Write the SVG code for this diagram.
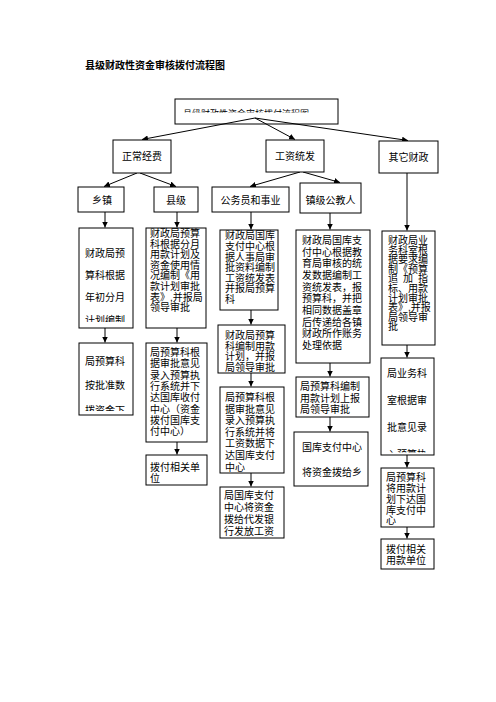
<svg xmlns="http://www.w3.org/2000/svg" width="496" height="702" viewBox="0 0 496 702">
<style>
text{font-family:"Liberation Sans","Noto Sans CJK SC",sans-serif;fill:#000;font-size:10px}
.b{fill:#fff;stroke:#000;stroke-width:1}
.c line{stroke:#000;stroke-width:1;marker-end:url(#ah)}
.t{font-weight:bold}
.f11{font-size:10.8px}
.m{text-anchor:middle}
</style>
<defs>
<marker id="ah" markerUnits="userSpaceOnUse" markerWidth="7" markerHeight="6" refX="6" refY="3" orient="auto"><path d="M0,0 L6,3 L0,6 z" fill="#000"/></marker>
<clipPath id="cTop"><rect x="175" y="99" width="163" height="13.5"/></clipPath>
<clipPath id="cX1"><rect x="79" y="228" width="54" height="94"/></clipPath>
<clipPath id="cX2"><rect x="79" y="343" width="54" height="68"/></clipPath>
<clipPath id="cQ2"><rect x="381" y="358" width="53" height="94.5"/></clipPath>
</defs>
<rect width="496" height="702" fill="#fff"/>
<text class="t" x="85" y="69">县级财政性资金审核拨付流程图</text>

<g id="connectors" class="c">
<line x1="255" y1="118" x2="142" y2="139.5"/>
<line x1="255" y1="118" x2="295" y2="139.5"/>
<line x1="255" y1="118" x2="408" y2="140.5"/>
<line x1="137" y1="173" x2="104" y2="186.5"/>
<line x1="140" y1="173" x2="176" y2="186.5"/>
<line x1="300" y1="172" x2="250" y2="186.5"/>
<line x1="303" y1="172" x2="340" y2="182.5"/>
<line x1="407" y1="173" x2="407" y2="230.5"/>
<line x1="105" y1="212" x2="105" y2="227.5"/>
<line x1="177" y1="212" x2="177" y2="227.5"/>
<line x1="251" y1="212" x2="251" y2="229.5"/>
<line x1="330" y1="213" x2="330" y2="229.5"/>
<line x1="105" y1="328" x2="105" y2="342.5"/>
<line x1="177" y1="328" x2="177" y2="342.5"/>
<line x1="177" y1="442" x2="177" y2="454.5"/>
<line x1="251" y1="310" x2="251" y2="324.5"/>
<line x1="251" y1="373" x2="251" y2="386.5"/>
<line x1="251" y1="473" x2="251" y2="486.5"/>
<line x1="330" y1="363" x2="330" y2="376.5"/>
<line x1="330" y1="417" x2="330" y2="431.5"/>
<line x1="407" y1="345" x2="407" y2="357.5"/>
<line x1="407" y1="455" x2="407" y2="467.5"/>
<line x1="407" y1="527" x2="407" y2="538.5"/>
</g>

<g id="top">
<rect class="b" x="175" y="99" width="163" height="25" fill="none" style="fill:none"/>
<text x="183" y="117" font-size="9" clip-path="url(#cTop)" style="font-size:9px">县级财政性资金审核拨付流程图</text>
</g>

<g id="n-zhengchang"><rect class="b" x="113" y="140" width="58" height="33"/><text class="m" x="142" y="160">正常经费</text></g>
<g id="n-gongzi"><rect class="b" x="266" y="140" width="58" height="32"/><text class="m" x="295" y="160">工资统发</text></g>
<g id="n-qita"><rect class="b" x="379" y="141" width="59" height="32"/><text class="m" x="408.5" y="161">其它财政</text></g>

<g id="n-xiangzhen"><rect class="b" x="78" y="187" width="46" height="25"/><text class="m" x="102" y="204">乡镇</text></g>
<g id="n-xianji"><rect class="b" x="154" y="187" width="44" height="25"/><text class="m" x="176" y="204">县级</text></g>
<g id="n-gwy"><rect class="b" x="212" y="187" width="77" height="25"/><text class="m" x="250.5" y="204">公务员和事业</text></g>
<g id="n-zhenjigj"><rect class="b" x="300" y="183" width="61" height="30"/><text class="m" x="330.5" y="204">镇级公教人</text></g>

<g id="x1"><rect class="b" x="79" y="228" width="54" height="100"/>
<g clip-path="url(#cX1)"><text x="85" y="257">财政局预</text><text x="85" y="279">算科根据</text><text x="85" y="301">年初分月</text><text x="85" y="324">计划编制</text></g></g>
<g id="x2"><rect class="b" x="79" y="343" width="54" height="72"/>
<g clip-path="url(#cX2)"><text x="85" y="365">局预算科</text><text x="85" y="389">按批准数</text><text x="85" y="414">拨资金下</text></g></g>

<g id="k1"><rect class="b" x="146" y="228" width="60" height="100"/>
<text x="150" y="237">财政局预算</text><text x="150" y="247.6">科根据分月</text><text x="150" y="258.2">用款计划及</text><text x="150" y="268.8">资金使用情</text><text x="150" y="279.4">况编制《用</text><text x="150" y="290">款计划审批</text><text x="150" y="300.6">表》,并报局</text><text x="150" y="311.2">领导审批</text></g>
<g id="k2"><rect class="b" x="146" y="343" width="61" height="99"/>
<g class="f11"><text x="150" y="356">局预算科根</text><text x="150" y="367.3">据审批意见</text><text x="150" y="378.6">录入预算执</text><text x="150" y="389.9">行系统并下</text><text x="150" y="401.2">达国库收付</text><text x="150" y="412.5">中心（资金</text><text x="150" y="423.8">拨付国库支</text><text x="150" y="435.1">付中心）</text></g></g>
<g id="k3"><rect class="b" x="146" y="455" width="61" height="30"/>
<g class="f11"><text x="150" y="471">拨付相关单</text><text x="150" y="482">位</text></g></g>

<g id="g1"><rect class="b" x="220" y="230" width="58" height="80"/>
<text x="225" y="239">财政局国库</text><text x="225" y="250">支付中心根</text><text x="225" y="260.5">据人事局审</text><text x="225" y="271">批资料编制</text><text x="225" y="282">工资统发表</text><text x="225" y="292">并报局预算</text><text x="225" y="303">科</text></g>
<g id="g2"><rect class="b" x="218" y="325" width="67" height="48"/>
<g style="font-size:11px"><text x="225" y="339">财政局预算</text><text x="225" y="349.5">科编制用款</text><text x="225" y="360">计划，并报</text><text x="225" y="371">局领导审批</text></g></g>
<g id="g3"><rect class="b" x="220" y="387" width="64" height="86"/>
<g style="font-size:10.7px"><text x="225" y="401">局预算科根</text><text x="225" y="413">据审批意见</text><text x="225" y="424">录入预算执</text><text x="225" y="435.5">行系统并将</text><text x="225" y="447">工资数据下</text><text x="225" y="459">达国库支付</text><text x="225" y="471">中心</text></g></g>
<g id="g4"><rect class="b" x="220" y="487" width="64" height="51"/>
<g style="font-size:11.2px"><text x="224" y="498.5">局国库支付</text><text x="224" y="510.5">中心将资金</text><text x="224" y="522.5">拨给代发银</text><text x="224" y="535">行发放工资</text></g></g>

<g id="z1"><rect class="b" x="296" y="230" width="74" height="133"/>
<g style="font-size:10.7px"><text x="302" y="244">财政局国库支</text><text x="302" y="255.7">付中心根据教</text><text x="302" y="267.3">育局审核的统</text><text x="302" y="279">发数据编制工</text><text x="302" y="290.7">资统发表，报</text><text x="302" y="302.3">预算科，并把</text><text x="302" y="314">相同数据盖章</text><text x="302" y="325.7">后传递给各镇</text><text x="302" y="337.3">财政所作账务</text><text x="302" y="349">处理依据</text></g></g>
<g id="z2"><rect class="b" x="296" y="377" width="73" height="40"/>
<g style="font-size:10.7px"><text x="300" y="390">局预算科编制</text><text x="300" y="401.5">用款计划上报</text><text x="300" y="413">局领导审批</text></g></g>
<g id="z3"><rect class="b" x="294" y="432" width="74" height="54"/>
<text x="302" y="451">国库支付中心</text><text x="302" y="476">将资金拨给乡</text></g>

<g id="q1"><rect class="b" x="382" y="231" width="53" height="114"/>
<text x="388" y="244">财政局业</text><text x="388" y="253.6">务科室根</text><text x="388" y="263.2">据要求编</text><text x="388" y="272.8">制《预算</text><text x="388" y="282.4" textLength="40" lengthAdjust="spacing">追 加 指</text><text x="388" y="292">标、用款</text><text x="388" y="301.6">计划审批</text><text x="388" y="311.2">表》,并报</text><text x="388" y="320.8">局领导审</text><text x="388" y="330.4">批</text></g>
<g id="q2"><rect class="b" x="381" y="358" width="53" height="97"/>
<g clip-path="url(#cQ2)"><text x="387" y="377">局业务科</text><text x="387" y="404">室根据审</text><text x="387" y="431">批意见录</text><text x="387" y="458">入预算执</text></g></g>
<g id="q3"><rect class="b" x="381" y="468" width="53" height="59"/>
<g style="font-size:10.3px"><text x="386" y="481">局预算科</text><text x="386" y="492">将用款计</text><text x="386" y="502.5">划下达国</text><text x="386" y="513.5">库支付中</text><text x="386" y="524">心</text></g></g>
<g id="q4"><rect class="b" x="381" y="539" width="53" height="30"/>
<g style="font-size:10.3px"><text x="386" y="553">拨付相关</text><text x="386" y="564">用款单位</text></g></g>
</svg>
